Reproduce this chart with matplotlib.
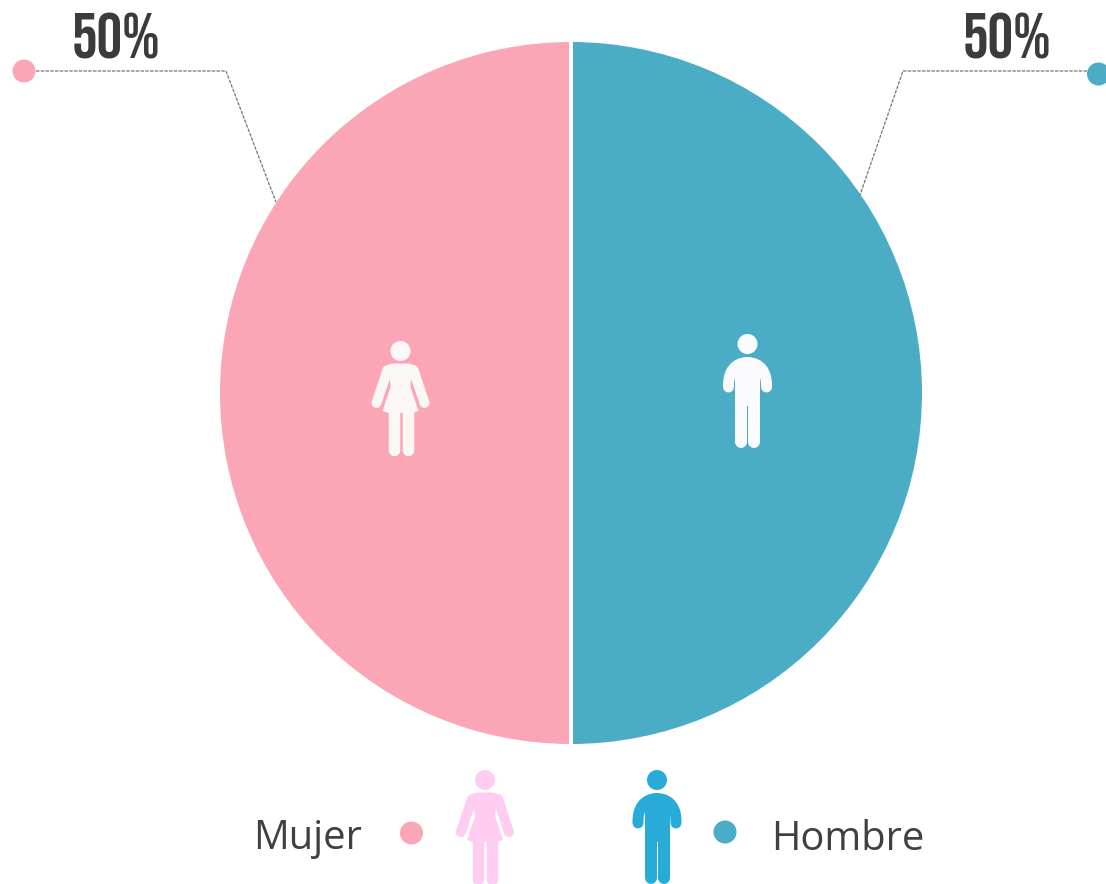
import matplotlib
matplotlib.use("Agg")
import matplotlib.pyplot as plt
from matplotlib.patches import Circle, Polygon, PathPatch
from matplotlib.path import Path

categories = ["Mujer", "Hombre"]
values = [50, 50]
pct_labels = ["50%", "50%"]
slice_colors = ["#FAA6B7", "#4BACC6"]
TEXT = "#404040"
PCT = "#3B3B39"
PX = 72 / 100

fig = plt.figure(figsize=(11.06, 8.84), dpi=100, facecolor="white")
ax = fig.add_axes([0, 0, 1, 1])

ax.pie(values, colors=slice_colors, center=(571, 393), radius=353, startangle=90,
       counterclock=True, frame=True,
       wedgeprops=dict(edgecolor="white", linewidth=4 * PX))
ax.set_xlim(0, 1106)
ax.set_ylim(884, 0)
ax.set_aspect("equal")
ax.axis("off")


def stroke(verts, codes, color, width, z=5):
    ax.add_patch(PathPatch(Path(verts, codes), fill=False, edgecolor=color,
                           linewidth=width * PX, capstyle="round", joinstyle="round", zorder=z))


def legs(cx, cy, dx, y0, y1, width, color):
    for s in (-1, 1):
        ax.plot([cx + s * dx, cx + s * dx], [cy + y0, cy + y1], color=color,
                lw=width * PX, solid_capstyle="round", zorder=5)


def woman(cx, cy, color):
    ax.add_patch(Circle((cx, cy), 10, facecolor=color, edgecolor="none", zorder=5))
    pts = [(-17, 18), (-12, 13.5), (-8, 12.5), (8, 12.5), (12, 13.5), (17, 18), (10.5, 30), (10, 36),
           (18, 60), (12, 62), (-12, 62), (-18, 60), (-10, 36), (-10.5, 30)]
    ax.add_patch(Polygon([(cx + x, cy + y) for x, y in pts], closed=True, facecolor=color,
                         edgecolor="none", zorder=5))
    for s in (-1, 1):
        ax.plot([cx + s * 13, cx + s * 24], [cy + 19, cy + 52], color=color,
                lw=10 * PX, solid_capstyle="round", zorder=5)
    legs(cx, cy, 7, 60, 99, 11.5, color)


def man(cx, cy, color):
    ax.add_patch(Circle((cx, cy), 10, facecolor=color, edgecolor="none", zorder=5))
    for s in (-1, 1):
        stroke([(cx + s * 19, cy + 43), (cx + s * 19.5, cy + 28), (cx + s * 13, cy + 19), (cx, cy + 18.5)],
               [Path.MOVETO, Path.CURVE4, Path.CURVE4, Path.CURVE4], color, 11)
    ax.add_patch(Polygon([(cx - 12.5, cy + 18), (cx + 12.5, cy + 18), (cx + 12.5, cy + 62), (cx - 12.5, cy + 62)],
                         closed=True, facecolor=color, edgecolor="none", zorder=5))
    legs(cx, cy, 6.5, 55, 98, 12, color)


# Leader lines
ax.plot([36, 226, 276], [71, 71, 202], color="#777777", lw=0.9, ls=(0, (2.8, 1.0)), zorder=1)
ax.plot([1087, 903, 860], [71, 71, 195], color="#777777", lw=0.9, ls=(0, (2.8, 1.0)), zorder=1)
ax.add_patch(Circle((24, 71), 11.5, facecolor=slice_colors[0], edgecolor="none", zorder=4))
ax.add_patch(Circle((1098.5, 74), 11.5, facecolor=slice_colors[1], edgecolor="none", zorder=4))

pct_font = dict(family=["Bebas Neue", "Oswald", "Liberation Sans"], size=46, color=PCT,
                ha="center", va="center_baseline")
ax.text(116, 36, pct_labels[0], **pct_font)
ax.text(1007, 36, pct_labels[1], **pct_font)

# Icons on slices
woman(400.5, 351, "#FAF7F5")
man(747.5, 344, "#FBFBFE")

# Legend
ax.add_patch(Circle((411.5, 833), 11.5, facecolor=slice_colors[0], edgecolor="none", zorder=4))
ax.add_patch(Circle((725, 832), 11.5, facecolor=slice_colors[1], edgecolor="none", zorder=4))
woman(485, 780, "#FFCCF2")
man(657, 780, "#29ABD9")
leg_font = dict(family="Open Sans", size=28.7, color=TEXT, va="center")
ax.text(253, 839, categories[0], ha="left", **leg_font)
ax.text(771, 840, categories[1], ha="left", **leg_font)

fig.savefig("out.png", dpi=100, facecolor="white")
